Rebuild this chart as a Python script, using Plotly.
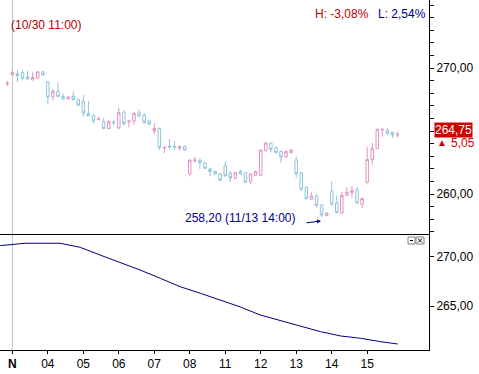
import plotly.graph_objects as go

# ---- data (hourly candles, 10/31 15:00 .. 11/15 15:00) ----
open_ = [268.75, 269.45, 269.55, 269.65, 269.30, 269.05, 269.20, 269.70, 268.90, 267.75,
         268.15, 267.75, 267.55, 267.75, 267.50, 267.35, 266.40, 266.25, 265.90, 265.75,
         265.20, 265.70, 265.25, 266.50, 265.75, 265.80, 266.45, 266.25, 265.80, 265.00,
         265.20, 263.65, 263.80, 263.80, 263.65, 263.80, 261.60, 262.65, 262.70, 262.50,
         262.00, 261.80, 261.60, 262.25, 261.65, 261.25, 261.80, 261.70, 261.00, 261.50,
         261.50, 263.45, 264.05, 263.70, 263.40, 262.95, 263.30, 262.70, 261.70, 260.55,
         259.60, 259.85, 259.15, 258.30, 260.25, 259.30, 258.50, 259.90, 260.10, 260.35,
         259.20, 260.95, 262.75, 263.60, 265.10, 265.05, 264.90, 264.70]
high = [269.00, 269.85, 269.85, 269.85, 269.80, 269.65, 269.75, 269.75, 269.00, 268.35,
        268.90, 268.00, 267.80, 268.15, 267.55, 267.85, 267.40, 266.30, 266.15, 266.05,
        265.90, 265.90, 266.85, 266.65, 265.90, 266.50, 266.70, 266.40, 265.85, 265.65,
        265.30, 263.80, 264.35, 264.20, 263.85, 263.85, 262.75, 262.95, 262.80, 262.55,
        262.10, 261.85, 261.65, 262.55, 261.85, 261.75, 261.95, 261.75, 261.65, 261.85,
        263.55, 264.10, 264.10, 263.75, 263.45, 263.45, 263.55, 263.00, 261.75, 260.60,
        260.15, 260.00, 259.20, 258.55, 261.00, 259.90, 260.15, 260.55, 260.65, 260.55,
        259.70, 263.75, 264.05, 265.15, 265.15, 265.25, 264.95, 264.95]
low = [268.55, 269.45, 268.90, 269.05, 269.05, 269.05, 269.20, 269.45, 267.10, 267.45,
       267.70, 267.50, 267.55, 267.45, 267.00, 266.15, 266.20, 265.60, 265.90, 265.15,
       265.15, 265.45, 265.15, 265.45, 265.30, 265.50, 266.15, 265.55, 265.50, 264.75,
       263.50, 263.25, 263.60, 263.50, 263.45, 263.45, 261.40, 262.45, 262.00, 262.00,
       261.45, 261.55, 261.05, 261.40, 260.95, 261.20, 261.55, 260.90, 260.80, 261.45,
       261.45, 263.40, 263.30, 263.25, 262.50, 262.90, 263.25, 261.30, 260.25, 259.55,
       259.55, 258.95, 258.20, 258.25, 259.10, 258.50, 258.45, 259.85, 259.75, 259.25,
       258.90, 260.85, 262.35, 263.60, 264.55, 264.75, 264.45, 264.50]
close = [268.80, 269.65, 269.40, 269.20, 269.15, 269.25, 269.70, 269.45, 267.70, 268.15,
         267.75, 267.55, 267.70, 267.50, 267.05, 266.45, 266.20, 265.80, 265.95, 265.20,
         265.75, 265.65, 266.45, 265.60, 265.80, 266.40, 266.20, 265.70, 265.55, 265.20,
         263.70, 263.70, 263.75, 263.75, 263.80, 263.50, 262.70, 262.70, 262.50, 262.05,
         261.80, 261.60, 261.10, 261.45, 261.30, 261.70, 261.60, 260.95, 261.60, 261.80,
         263.50, 264.05, 263.55, 263.30, 262.95, 263.40, 263.50, 261.60, 260.40, 259.65,
         259.85, 259.10, 258.35, 258.50, 259.20, 258.55, 259.90, 260.15, 260.30, 259.30,
         259.65, 262.75, 263.60, 265.15, 265.15, 264.80, 264.70, 264.75]

# moving-average line of the lower panel (read at candle positions)
ma_idx = [-1.4, 0.5, 3.5, 10.4, 14.4, 18.3, 22.3, 26.2, 30.2, 34.1, 38.1,
          42.0, 46.0, 49.9, 53.9, 57.8, 61.8, 65.8, 69.7, 73.7, 77.0]
ma_val = [271.12, 271.19, 271.36, 271.36, 270.95, 270.17, 269.43, 268.65, 267.81, 266.96, 266.29,
          265.61, 264.90, 264.09, 263.51, 262.91, 262.40, 261.96, 261.73, 261.38, 261.15]

day_labels = ["<b>N</b>", "04", "05", "06", "07", "08", "11", "12", "13", "14", "15"]
day_start_idx = [1, 8, 15, 22, 29, 36, 43, 50, 57, 64, 71]

upper_ticks = [260, 270]
upper_ticktext = ["260,00", "270,00"]
lower_ticks = [265, 270]
lower_ticktext = ["265,00", "270,00"]

PINK = "#e592c2"
BLUE = "#8ec4de"
FONT = "Liberation Sans, Arial, sans-serif"

x = list(range(len(close)))

fig = go.Figure()
fig.add_trace(go.Candlestick(
    x=x, open=open_, high=high, low=low, close=close,
    increasing=dict(line=dict(color=PINK, width=1), fillcolor="white"),
    decreasing=dict(line=dict(color=BLUE, width=1), fillcolor="white"),
    whiskerwidth=0, xaxis="x", yaxis="y", hoverinfo="skip", showlegend=False))
fig.add_trace(go.Scatter(
    x=ma_idx, y=ma_val, mode="lines", line=dict(color="#000080", width=1),
    xaxis="x2", yaxis="y2", hoverinfo="skip", showlegend=False))

PW, PH = 429, 350
split = (PH - 235) / PH
xr = [-1.44, 83.2]

def X(px):
    return px / PW

def Y(py):
    return 1 - py / PH

fig.update_layout(
    width=479, height=374,
    margin=dict(l=0, r=479 - PW, t=0, b=374 - PH),
    paper_bgcolor="white", plot_bgcolor="white",
    font=dict(family=FONT, size=12, color="black"),
    showlegend=False,
    xaxis=dict(domain=[0, 1], range=xr, anchor="y", showticklabels=False, showgrid=False,
               zeroline=False, showline=False, ticks="", rangeslider=dict(visible=False),
               matches="x2"),
    yaxis=dict(domain=[split, 1], range=[256.76, 275.4], side="right", anchor="x",
               showgrid=False, zeroline=False, showline=True, linecolor="black", linewidth=1,
               tickmode="array", tickvals=upper_ticks, ticktext=upper_ticktext,
               ticks="outside", ticklen=4, tickcolor="black",
               minor=dict(tickmode="linear", tick0=256, dtick=1, ticks="outside",
                          ticklen=4, tickcolor="black", showgrid=False)),
    xaxis2=dict(domain=[0, 1], range=xr, anchor="y2", showgrid=False, zeroline=False,
                showline=True, mirror=True, linecolor="black", linewidth=1,
                tickmode="array", tickvals=day_start_idx, ticktext=day_labels,
                ticks="outside", ticklen=3, tickcolor="black"),
    yaxis2=dict(domain=[0, split], range=[260.54, 272.2], side="right", anchor="x2",
                showgrid=False, zeroline=False, showline=True, linecolor="black", linewidth=1,
                tickmode="array", tickvals=lower_ticks, ticktext=lower_ticktext,
                ticks="outside", ticklen=4, tickcolor="black"),
)

# month divider line at N
fig.add_shape(type="line", xref="x", yref="paper", x0=day_start_idx[0], x1=day_start_idx[0],
              y0=0, y1=1, line=dict(color="#c0c0c0", width=1), layer="below")

# small panel icons
fig.add_shape(type="rect", xref="paper", yref="paper", x0=X(408), x1=X(415), y0=Y(244), y1=Y(237),
              line=dict(color="#808080", width=1), fillcolor="white")
fig.add_shape(type="line", xref="paper", yref="paper", x0=X(410), x1=X(413), y0=Y(240.5), y1=Y(240.5),
              line=dict(color="black", width=1))
fig.add_shape(type="rect", xref="paper", yref="paper", x0=X(416), x1=X(424), y0=Y(244), y1=Y(237),
              line=dict(color="#808080", width=1), fillcolor="white")
fig.add_shape(type="line", xref="paper", yref="paper", x0=X(418), x1=X(422), y0=Y(242.5), y1=Y(238.5),
              line=dict(color="black", width=1))
fig.add_shape(type="line", xref="paper", yref="paper", x0=X(418), x1=X(422), y0=Y(238.5), y1=Y(242.5),
              line=dict(color="black", width=1))

def txt(text, px, py, color, xanchor="left", size=12, **kw):
    fig.add_annotation(text=text, xref="paper", yref="paper", x=X(px), y=Y(py),
                       xanchor=xanchor, yanchor="middle", showarrow=False,
                       font=dict(family=FONT, size=size, color=color), **kw)

txt("(10/30 11:00)", 9, 25, "#b00000")
txt("H: -3,08%", 313, 14, "#c00000")
txt("L: 2,54%", 376, 14, "#000090")
txt("258,20 (11/13 14:00)", 183, 218, "#000090")
txt("264,75", 454, 130, "white", xanchor="center", bgcolor="#d00000", borderpad=0)
txt("\u25b2", 442, 142, "#d00000", xanchor="center", size=10)
txt("5,05", 449, 143, "#d00000")

# arrow pointing to low
fig.add_annotation(xref="paper", yref="paper", x=X(321), y=Y(221), ax=-16, ay=2,
                   text="", showarrow=True,
                   arrowhead=2, arrowsize=0.8, arrowwidth=1, arrowcolor="#000090")

fig.write_html("out.html", config={"displayModeBar": False},
               post_script="document.body.style.margin='0';")
